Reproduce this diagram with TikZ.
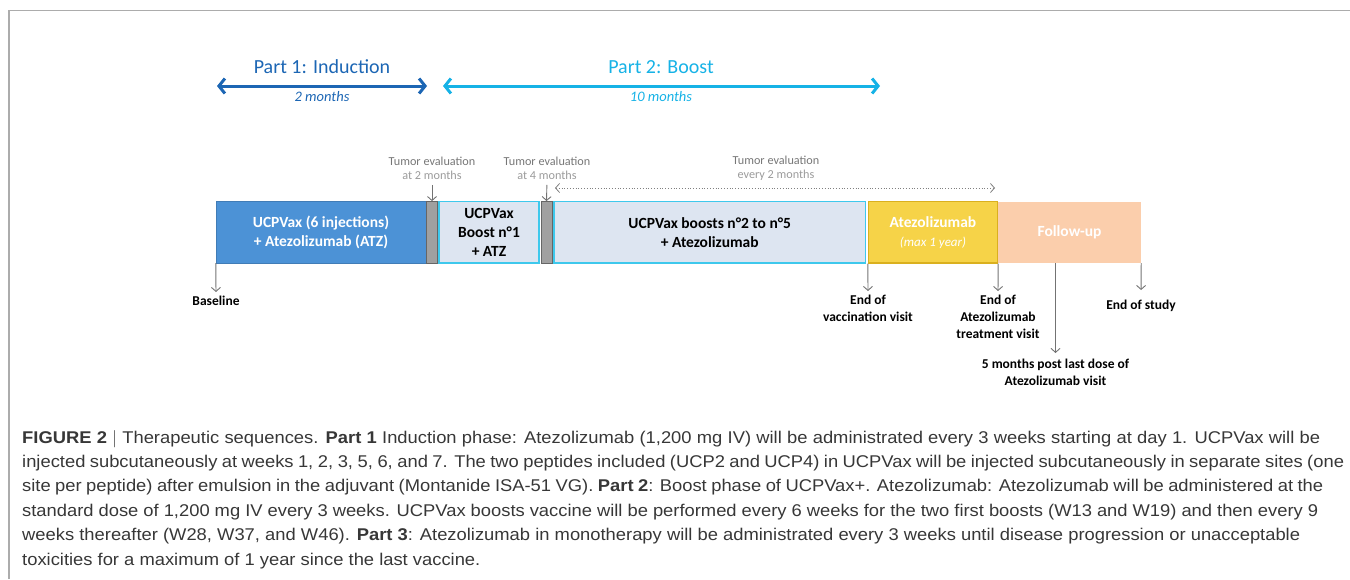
\documentclass[tikz,border=0pt]{standalone}
\usepackage{fontspec}
\setmainfont{Carlito}
\newfontfamily\capfont[FakeStretch=1.08]{Liberation Sans}
\usetikzlibrary{arrows.meta}

\definecolor{indblue}{RGB}{28,102,180}
\definecolor{boostcyan}{RGB}{22,178,230}
\definecolor{boxblue}{RGB}{76,146,214}
\definecolor{boxlight}{RGB}{221,229,241}
\definecolor{boxcyan}{RGB}{62,200,236}
\definecolor{gapgray}{RGB}{160,160,160}
\definecolor{atzyellow}{RGB}{246,211,72}
\definecolor{atzborder}{RGB}{218,176,30}
\definecolor{fuporange}{RGB}{251,206,172}
\definecolor{evalgray}{RGB}{118,118,118}
\definecolor{evallight}{RGB}{155,155,155}
\definecolor{framegray}{RGB}{172,172,172}
\definecolor{captext}{RGB}{55,55,55}

\newcommand{\capline}[2]{\makebox[#1pt][s]{#2}}

\tikzset{
  phasebox/.style={rectangle, minimum height=61.5pt, inner sep=0pt, align=center,
    font=\fontsize{15.5}{19}\selectfont\bfseries},
  gapbar/.style={rectangle, fill=gapgray, draw=gray!80!black, line width=0.8pt,
    minimum width=11pt, minimum height=61.5pt, inner sep=0pt},
  evaltext/.style={align=center, text=evalgray, inner sep=0pt,
    font=\fontsize{12.2}{14}\selectfont},
  visittext/.style={align=center, inner sep=0pt,
    font=\fontsize{13.5}{17}\selectfont\bfseries},
  visitarrow/.style={draw=gray!90!black, line width=0.9pt,
    -{Straight Barb[length=4pt,width=9pt]}},
  partarrow/.style={line width=3pt,
    {Straight Barb[length=6pt,width=15pt]}-{Straight Barb[length=6pt,width=15pt]}},
  parttitle/.style={inner sep=0pt, font=\fontsize{20}{24}\selectfont},
  partspan/.style={inner sep=0pt, font=\fontsize{14.5}{18}\selectfont\itshape},
}

\begin{document}
\begin{tikzpicture}[x=1pt,y=-1pt]
\useasboundingbox (0,0) rectangle (1350,579);
\draw[framegray, line width=1.5pt] (9,579) -- (9,10.5) -- (1350,10.5);

% parts
\coordinate (p1L) at (217,86);
\coordinate (p1R) at (427,86);
\coordinate (p2L) at (443,86);
\coordinate (p2R) at (880,86);
\draw[partarrow, indblue] (p1L) -- (p1R);
\draw[partarrow, boostcyan] (p2L) -- (p2R);
\node[parttitle, text=indblue] (p1) at (322,67) {Part 1: Induction};
\node[partspan, text=indblue] (p1m) at (322,97) {2 months};
\node[parttitle, text=boostcyan] (p2) at (661,67) {Part 2: Boost};
\node[partspan, text=boostcyan] (p2m) at (661,97) {10 months};

% timeline
\node[phasebox, fill=boxblue, draw=boxblue!85!black, text=white,
    minimum width=210pt] (ind) at (321,232.25)
    {UCPVax (6 injections)\\+ Atezolizumab (ATZ)};
\node[gapbar] (gap1) at (432,232.25) {};
\node[phasebox, fill=boxlight, draw=boxcyan, line width=1.3pt,
    minimum width=100pt] (bst1) at (489,232.25)
    {UCPVax\\Boost n°1\\+ ATZ};
\node[gapbar] (gap2) at (546.5,232.25) {};
\node[phasebox, fill=boxlight, draw=boxcyan, line width=1.3pt,
    minimum width=311.5pt] (bsts) at (709.75,232.25)
    {UCPVax boosts n°2 to n°5\\+ Atezolizumab};
\node[phasebox, fill=atzyellow, draw=atzborder, line width=1.3pt, text=white,
    minimum width=129pt] (atz) at (933,232.25)
    {Atezolizumab\\{\fontsize{13}{18}\selectfont\mdseries\itshape (max 1 year)}};
\node[phasebox, fill=fuporange, text=white,
    minimum width=143pt] (fup) at (1069.5,232.25) {Follow-up};

% tumor evaluations
\node[evaltext] (tev1) at (432,168.5) {Tumor evaluation\\\textcolor{evallight}{at 2 months}};
\node[evaltext] (tev2) at (547,168.5) {Tumor evaluation\\\textcolor{evallight}{at 4 months}};
\node[evaltext] (tev3) at (776,168.5) {Tumor evaluation\\\textcolor{evallight}{every 2 months}};
\draw[visitarrow, shorten <=5pt] (tev1.south) -- (gap1.north);
\draw[visitarrow, shorten <=5pt] (tev2.south) -- (gap2.north);
\coordinate (dotL) at (555,188);
\coordinate (dotR) at (995,188);
\draw[gray, line width=0.8pt, dotted,
    {Straight Barb[length=4pt,width=9pt]}-{Straight Barb[length=4pt,width=9pt]}]
    (dotL) -- (dotR);

% visits
\node[visittext, anchor=north] (base) at (216,296) {Baseline};
\node[visittext, anchor=north] (endvac) at (868,295) {End of\\vaccination visit};
\node[visittext, anchor=north] (endatz) at (998,295) {End of\\Atezolizumab\\treatment visit};
\node[visittext, anchor=north] (post) at (1055.5,359) {5 months post last dose of\\Atezolizumab visit};
\node[visittext, anchor=north] (endst) at (1141,300) {End of study};
\draw[visitarrow, shorten >=4pt] (ind.south west) -- (base.north);
\draw[visitarrow, shorten >=4pt] (atz.south west) -- (endvac.north);
\draw[visitarrow, shorten >=4pt] (atz.south east) -- (endatz.north);
\draw[visitarrow, shorten >=6pt] (post.north |- fup.south) -- (post.north);
\draw[visitarrow, shorten >=10pt] (fup.south east) -- (endst.north);

% caption
\node[anchor=north west, align=left, inner sep=0pt, text=captext,
    font=\capfont\fontsize{17}{24.4}\selectfont] (cap) at (22,430)
    {\capline{1298}{\textbf{FIGURE 2} $|$ Therapeutic sequences. \textbf{Part 1} Induction phase: Atezolizumab (1,200 mg IV) will be administrated every 3 weeks starting at day 1. UCPVax will be}\\
    \capline{1322}{injected subcutaneously at weeks 1, 2, 3, 5, 6, and 7. The two peptides included (UCP2 and UCP4) in UCPVax will be injected subcutaneously in separate sites (one}\\
    \capline{1301}{site per peptide) after emulsion in the adjuvant (Montanide ISA-51 VG). \textbf{Part 2}: Boost phase of UCPVax+. Atezolizumab: Atezolizumab will be administered at the}\\
    \capline{1296}{standard dose of 1,200 mg IV every 3 weeks. UCPVax boosts vaccine will be performed every 6 weeks for the two first boosts (W13 and W19) and then every 9}\\
    \capline{1278}{weeks thereafter (W28, W37, and W46). \textbf{Part 3}: Atezolizumab in monotherapy will be administrated every 3 weeks until disease progression or unacceptable}\\
    toxicities for a maximum of 1 year since the last vaccine.};
\end{tikzpicture}
\end{document}
